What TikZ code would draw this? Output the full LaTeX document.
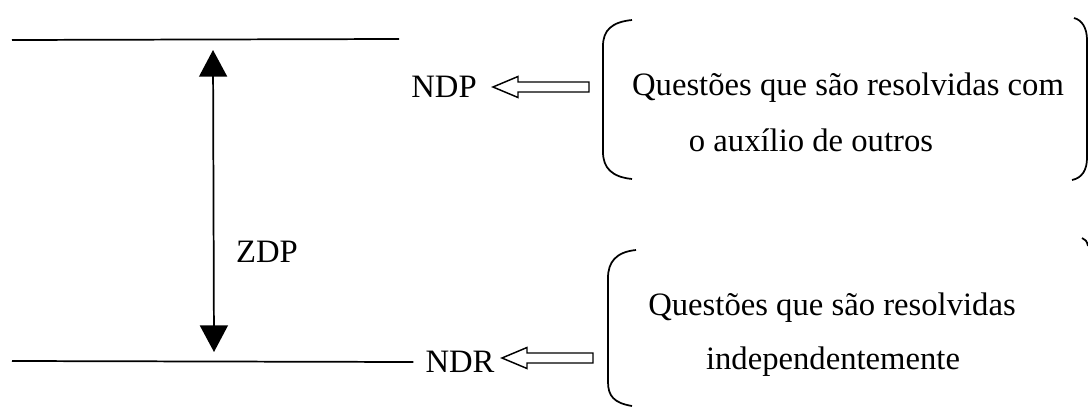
\documentclass[tikz,border=0pt]{standalone}
\usepackage{fontspec}
\setmainfont{Liberation Serif}
\usetikzlibrary{arrows.meta,calc}
\newcommand\myhollow[2]{%
  \draw[hollow] let \p1=(#1), \p2=(#2) in
    (\x1,\y1) -- ++(25,-10.5) -- ++(0,5.5) -- (\x2,\y1+3.75pt) -- (\x2,\y1-3.75pt)
    -- (\x1+18.75pt,\y1-3.75pt) -- ++(0,5.5) -- cycle;}
\begin{document}
\begin{tikzpicture}[x=0.75pt,y=-0.75pt,line width=1.3pt,
  lbl/.style={font=\fontsize{24.5}{30}\selectfont,inner sep=1pt},
  hollow/.style={draw,line width=1.1pt,fill=white,line join=miter},
  brace/.style={draw,line width=1.3pt}]
\useasboundingbox (0,0) rectangle (1088,407);
% levels
\coordinate (tl) at (12,40);
\coordinate (tr) at (399,39);
\coordinate (bl) at (12,361);
\draw (tl) -- (tr);
\node[lbl] (ndr) at (460,362) {NDR};
\draw (bl) -- ([xshift=-7.5pt]ndr.west);
% ZDP double arrow
\coordinate (ztop) at (213,50);
\coordinate (zbot) at (214,352);
\draw[{Triangle[width=21pt,length=20pt]}-{Triangle[width=21pt,length=20pt]}] (ztop) -- (zbot);
\node[lbl,anchor=west] (zdp) at (234,252) {ZDP};
% NDP
\node[lbl] (ndp) at (444,87) {NDP};
\coordinate (a1tip) at (493,87);
\coordinate (a1tail) at (589,87);
\myhollow{a1tip}{a1tail}
\coordinate (a2tip) at (502,358);
\coordinate (a2tail) at (593,358);
\myhollow{a2tip}{a2tail}
% brackets
\draw[brace] (632,20) .. controls (612,22) and (603,30) .. (603,46) -- (603,152)
  .. controls (603,168) and (612,177) .. (632,179);
\draw[brace] (1074,18) .. controls (1082,20) and (1087,28) .. (1087,40) -- (1087,158)
  .. controls (1087,170) and (1082,178) .. (1072,180);
\draw[brace] (636,250) .. controls (616,252) and (608,262) .. (608,278) -- (608,382)
  .. controls (608,396) and (614,403) .. (632,406);
\draw[brace] (1082,238) .. controls (1085,239) and (1087,241) .. (1088,246);
% texts
\node[lbl] (q1a) at (848,88) {Questões que são resolvidas com};
\node[lbl] (q1b) at (811,140) {o auxílio de outros};
\node[lbl] (q2a) at (832,308) {Questões que são resolvidas};
\node[lbl] (q2b) at (833,362) {independentemente};
\end{tikzpicture}
\end{document}
